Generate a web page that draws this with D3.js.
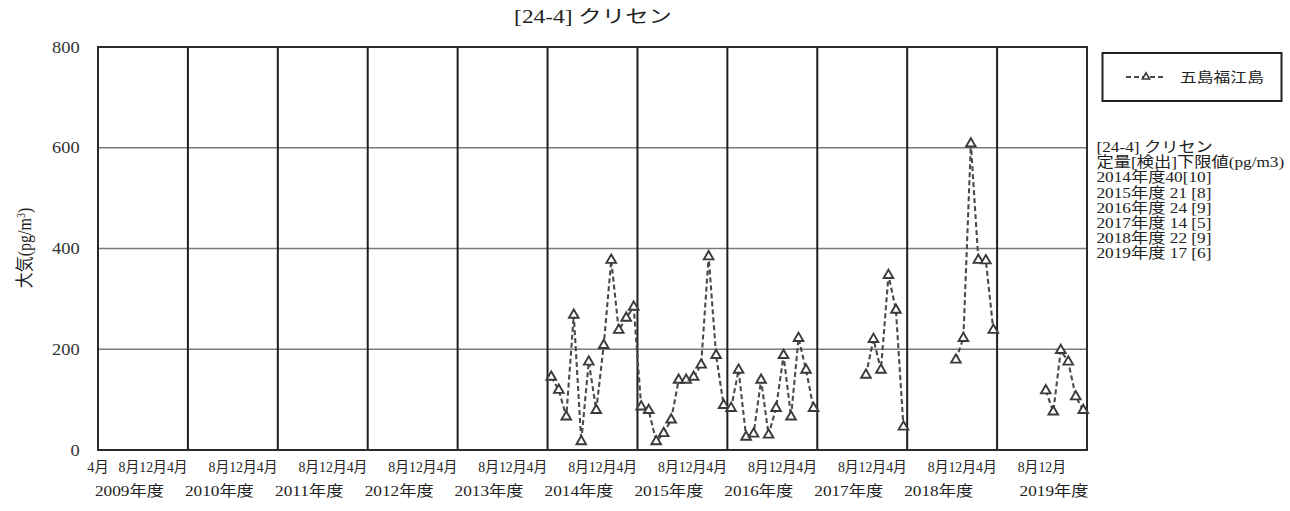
<!DOCTYPE html>
<html>
<head>
<meta charset="utf-8">
<script src="https://cdn.jsdelivr.net/npm/d3@7/dist/d3.min.js"></script>
<style>
  body { margin: 0; background: #fff; }
  text { font-family: "Liberation Serif", "Noto Sans CJK JP", serif; fill: #222; }
</style>
</head>
<body>
<svg id="chart" width="1290" height="511"></svg>
<script>
// fiscal years on the x axis (April - March)
const fiscalYears = [2009, 2010, 2011, 2012, 2013, 2014, 2015, 2016, 2017, 2018, 2019];
const monthLabels = ["4月", "8月", "12月"];
const yTicks = [0, 200, 400, 600, 800];

// monthly values, April -> March (null = no measurement)
const fy2014 = [145, 119, 66, 268, 17, 175, 79, 208, 377, 238, 262, 284];
const fy2015 = [86, 79, 17, 33, 60, 139, 139, 145, 169, 384, 188, 89];
const fy2016 = [83, 159, 26, 32, 139, 30, 83, 188, 66, 222, 159, 83];
const fy2017 = [null, null, null, null, null, null, 149, 220, 159, 347, 278, 46];
const fy2018 = [null, null, null, null, null, null, 179, 222, 608, 377, 376, 238];
const fy2019 = [null, null, null, null, null, null, 118, 76, 198, 175, 106, 79];

const seriesName = "五島福江島";
const noteLines = [
  "[24-4] クリセン",
  "定量[検出]下限値(pg/m3)",
  "2014年度40[10]",
  "2015年度 21 [8]",
  "2016年度 24 [9]",
  "2017年度 14 [5]",
  "2018年度 22 [9]",
  "2019年度 17 [6]"
];

const byYear = { 2014: fy2014, 2015: fy2015, 2016: fy2016, 2017: fy2017, 2018: fy2018, 2019: fy2019 };
const points = fiscalYears.flatMap((fy, k) =>
  (byYear[fy] || Array(12).fill(null)).map((v, m) => ({ i: k * 12 + m, v: v }))
);

const svg = d3.select("#chart");
const pl = 98, pr = 1087, pt = 47, pb = 450;
const sx = 1.15; // the picture is a bit wide, text gets stretched with it

const x = d3.scaleLinear().domain([0, fiscalYears.length * 12]).range([pl, pr]);
const y = d3.scaleLinear().domain([0, 800]).range([pb, pt]);

function label(g, px, py, str, anchor, size, k) {
  return g.append("text")
    .attr("transform", `translate(${px},${py}) scale(${k || sx},1)`)
    .attr("text-anchor", anchor)
    .style("font-size", size + "px")
    .text(str);
}

// horizontal grid
svg.append("g")
  .selectAll("line")
  .data(yTicks.filter((t) => t > 0 && t < 800))
  .join("line")
  .attr("x1", pl).attr("x2", pr)
  .attr("y1", (d) => y(d)).attr("y2", (d) => y(d))
  .attr("stroke", "#7a7a7a")
  .attr("stroke-width", 1.6);

// year separators
svg.append("g")
  .selectAll("line")
  .data(d3.range(1, fiscalYears.length))
  .join("line")
  .attr("x1", (d) => x(d * 12)).attr("x2", (d) => x(d * 12))
  .attr("y1", pt).attr("y2", pb)
  .attr("stroke", "#1e1e1e")
  .attr("stroke-width", 2);

// plot frame
svg.append("rect")
  .attr("x", pl).attr("y", pt)
  .attr("width", pr - pl).attr("height", pb - pt)
  .attr("fill", "none")
  .attr("stroke", "#2a2a2a")
  .attr("stroke-width", 2);

// y axis
const yAxis = svg.append("g")
  .attr("transform", `translate(${pl},0)`)
  .call(d3.axisLeft(y).tickValues(yTicks).tickSize(0).tickPadding(16));
yAxis.select(".domain").remove();
yAxis.attr("font-family", null);
yAxis.selectAll("text")
  .attr("transform", "scale(1.15,1)")
  .style("font-size", "16px")
  .style("fill", "#333");

label(svg, 30, 248, "", "middle", 16)
  .attr("transform", `translate(31,248) scale(${sx},1) rotate(-90)`)
  .call((t) => {
    t.append("tspan").text("大気(pg/m");
    t.append("tspan").attr("dy", -5).style("font-size", "10px").text("3");
    t.append("tspan").attr("dy", 5).text(")");
  });

// x labels: month row + fiscal year row
const xl = svg.append("g");
label(xl, x(0), 472, monthLabels[0], "middle", 15, 0.95);
fiscalYears.forEach((fy, k) => {
  const last = k === fiscalYears.length - 1;
  const str = monthLabels.slice(1).join("") + (last ? "" : monthLabels[0]);
  label(xl, x(k * 12 + 2.75), 472, str, "start", 15, 0.92);
  label(xl, x(k * 12 + (last ? 7.6 : 4.2)), 496, fy + "年度", "middle", 15, 1.15);
});

// series
const line = d3.line()
  .defined((d) => d.v !== null)
  .x((d) => x(d.i + 0.5))
  .y((d) => y(d.v));

svg.append("path")
  .datum(points)
  .attr("d", line)
  .attr("fill", "none")
  .attr("stroke", "#4a4a4a")
  .attr("stroke-width", 2.1)
  .attr("stroke-dasharray", "5,3");

svg.append("g")
  .selectAll("path")
  .data(points.filter((d) => d.v !== null))
  .join("path")
  .attr("d", d3.symbol(d3.symbolTriangle, 40))
  .attr("transform", (d) => `translate(${x(d.i + 0.5)},${y(d.v)})`)
  .attr("fill", "#fff")
  .attr("stroke", "#3a3a3a")
  .attr("stroke-width", 1.9);

// legend
const lg = svg.append("g");
lg.append("rect")
  .attr("x", 1102.5).attr("y", 53)
  .attr("width", 179).attr("height", 48)
  .attr("fill", "#fff")
  .attr("stroke", "#222")
  .attr("stroke-width", 2);
lg.append("line")
  .attr("x1", 1126).attr("x2", 1166)
  .attr("y1", 77).attr("y2", 77)
  .attr("stroke", "#4a4a4a")
  .attr("stroke-width", 2)
  .attr("stroke-dasharray", "5,3");
lg.append("path")
  .attr("d", d3.symbol(d3.symbolTriangle, 22))
  .attr("transform", "translate(1146,77)")
  .attr("fill", "#fff")
  .attr("stroke", "#3a3a3a")
  .attr("stroke-width", 1.6);
label(lg, 1180, 82, seriesName, "start", 14, 1.2);

// detection limit note
const nt = svg.append("g");
noteLines.forEach((s, k) => label(nt, 1096.5, 152 + k * 15.2, s, "start", 15));

// title
label(svg, 593, 23, "[24-4] クリセン", "middle", 18, 1.3);
</script>
</body>
</html>
